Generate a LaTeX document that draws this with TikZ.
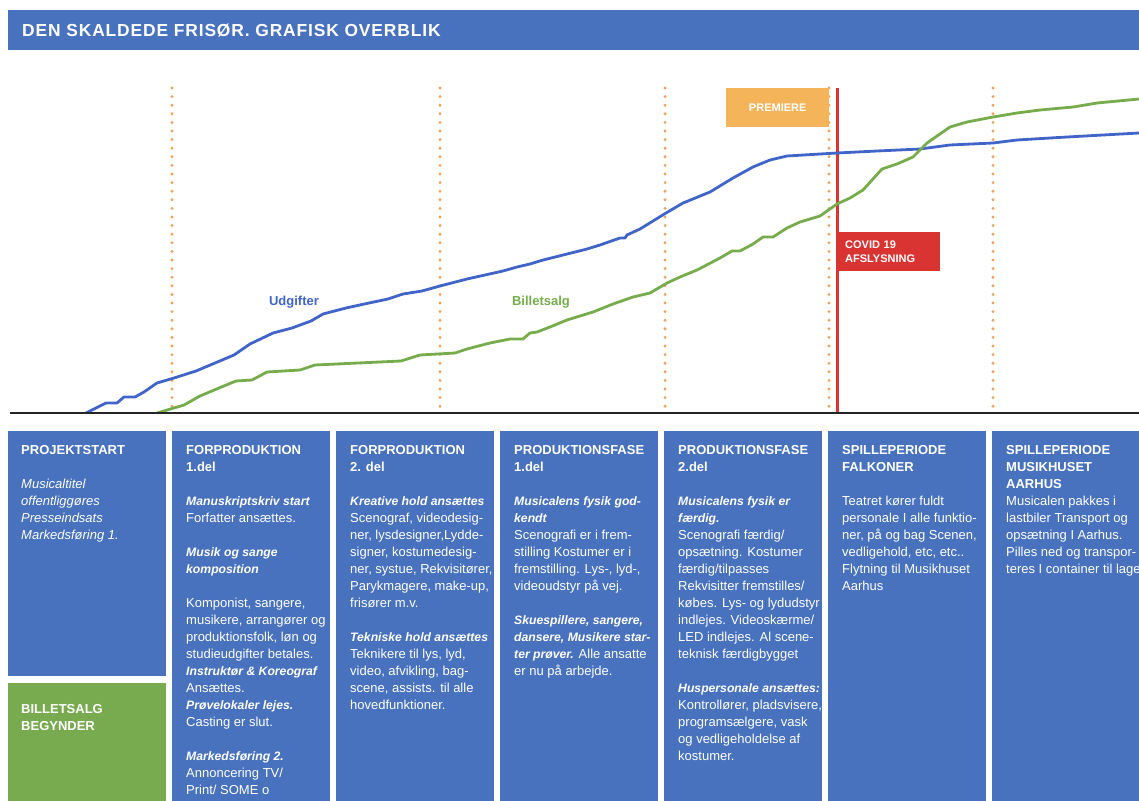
\documentclass[tikz,border=0pt]{standalone}
\usepackage{fontspec}
\setmainfont{Liberation Sans}
\newfontfamily\titlefont[LetterSpace=5]{Liberation Sans}
\usetikzlibrary{positioning}

\definecolor{boxblue}{RGB}{72,114,189}
\definecolor{udgblue}{RGB}{64,100,200}
\definecolor{salggreen}{RGB}{118,172,76}
\definecolor{boxgreen}{RGB}{120,170,80}
\definecolor{dotorange}{RGB}{240,160,90}
\definecolor{premorange}{RGB}{243,180,90}
\definecolor{covidred}{RGB}{218,52,50}

\newcommand{\bi}[1]{{\fontsize{12.2}{17}\selectfont\bfseries\itshape #1}}

\begin{document}
\begin{tikzpicture}[
  x=1pt, y=-1pt,
  phase/.style={rectangle, fill=boxblue, anchor=north west, minimum width=158pt, inner sep=0pt},
  txt/.style={anchor=north west, align=left, text=white, inner sep=0pt, font=\fontsize{13}{17}\selectfont},
  tag/.style={rectangle, anchor=north west, text=white, inner sep=0pt, font=\bfseries\fontsize{11}{14}\selectfont},
  milestone/.style={dotorange, line width=3.2pt, line cap=round, dash pattern=on 0pt off 8.6pt},
  curve/.style={line width=2.8pt, line join=round},
  lbl/.style={font=\bfseries\fontsize{13}{15}\selectfont}
]
\useasboundingbox (0,0) rectangle (1139,800);

% title bar
\node[fill=boxblue, anchor=north west, minimum width=1131pt, minimum height=40pt, inner sep=0pt] (bar) at (8,10) {};
\node[anchor=west, text=white, inner sep=0pt, font=\titlefont\bfseries\fontsize{17.4}{20}\selectfont] (title) at ([xshift=14pt]bar.west) {DEN SKALDEDE FRISØR. GRAFISK OVERBLIK};

% phase markers
\foreach \x in {172,440,665,829,993}
  \draw[milestone] (\x,88) -- (\x,413);

\node[tag, fill=premorange, minimum width=103pt, minimum height=39pt, align=center] (prem) at (726,88) {PREMIERE};
\coordinate (rtop) at (837,88);
\coordinate (rbot) at (837,413);
\draw[covidred, line width=3pt] (rtop) -- (rbot);
\node[tag, fill=covidred, minimum width=104pt, minimum height=39pt, text width=86pt, inner xsep=9pt, align=left] (covid) at (836,232) {COVID 19\\AFSLYSNING};

% curves
\draw[curve, udgblue] plot coordinates {(86,413) (106,403) (117,403) (124,397) (135,397) (144,392) (157,383) (174,378) (196,371) (215,363) (234,355) (250,344) (273,333) (292,328) (311,321) (323,314) (346,308) (369,303) (388,299) (403,294) (422,291) (440,286) (467,279) (503,271) (517,267) (530,264) (543,260) (567,254) (587,249) (600,245) (620,238) (625,238) (627,235) (640,229) (666,213) (683,203) (710,192) (733,178) (753,167) (770,160) (787,156) (837,153) (877,151) (920,149) (950,145) (993,143) (1017,140) (1067,137) (1139,133)};
\draw[curve, salggreen] plot coordinates {(157,413) (184,405) (200,396) (219,388) (236,381) (252,380) (267,372) (300,370) (315,365) (401,361) (420,355) (455,353) (467,349) (490,343) (510,339) (523,339) (530,333) (537,332) (550,327) (567,320) (593,312) (613,304) (633,297) (650,293) (667,283) (680,277) (697,270) (720,258) (732,251) (740,251) (753,244) (763,237) (773,237) (787,228) (800,222) (820,216) (837,204) (850,198) (863,190) (882,169) (897,164) (913,157) (927,143) (950,127) (967,122) (993,117) (1017,113) (1040,110) (1073,107) (1097,103) (1139,99)};
\node[lbl, text=udgblue] (udg) at (294,302) {Udgifter};
\node[lbl, text=salggreen] (salg) at (541,302) {Billetsalg};

% axis
\draw[black!85, line width=2pt] (10,413) -- (1139,413);

% phases
\node[phase, minimum height=245pt] (p1) at (8,431) {};
\node[phase, fill=boxgreen, minimum height=120pt] (sale) at (8,683) {};
\node[phase, minimum height=370pt] (p2) at (172,431) {};
\node[phase, minimum height=370pt] (p3) at (336,431) {};
\node[phase, minimum height=370pt] (p4) at (500,431) {};
\node[phase, minimum height=370pt] (p5) at (664,431) {};
\node[phase, minimum height=370pt] (p6) at (828,431) {};
\node[phase, minimum height=370pt] (p7) at (992,431) {};

\node[txt] (t1) at ([xshift=13pt,yshift=-14pt]p1.north west) {%
\textbf{PROJEKTSTART}\\[17pt]
\textit{Musicaltitel}\\
\textit{offentliggøres}\\
\textit{Presseindsats}\\
\textit{Markedsføring 1.}};

\node[txt] (ts) at ([xshift=13pt,yshift=-21pt]sale.north west) {%
\textbf{BILLETSALG}\\
\textbf{BEGYNDER}};

\node[txt] (t2) at ([xshift=14pt,yshift=-14pt]p2.north west) {%
\textbf{FORPRODUKTION}\\
\textbf{1.del}\\[17pt]
\bi{Manuskriptskriv start}\\
Forfatter ansættes.\\[17pt]
\bi{Musik og sange}\\
\bi{komposition}\\[17pt]
Komponist, sangere,\\
musikere, arrangører og\\
produktionsfolk, løn og\\
studieudgifter betales.\\
\bi{Instruktør \& Koreograf}\\
Ansættes.\\
\bi{Prøvelokaler lejes.}\\
Casting er slut.\\[17pt]
\bi{Markedsføring 2.}\\
Annoncering TV/\\
Print/ SOME o};

\node[txt] (t3) at ([xshift=14pt,yshift=-14pt]p3.north west) {%
\textbf{FORPRODUKTION}\\
\textbf{2. del}\\[17pt]
\bi{Kreative hold ansættes}\\
Scenograf, videodesig-\\
ner, lysdesigner,Lydde-\\
signer, kostumedesig-\\
ner, systue, Rekvisitører,\\
Parykmagere, make-up,\\
frisører m.v.\\[17pt]
\bi{Tekniske hold ansættes}\\
Teknikere til lys, lyd,\\
video, afvikling, bag-\\
scene, assists. til alle\\
hovedfunktioner.};

\node[txt] (t4) at ([xshift=14pt,yshift=-14pt]p4.north west) {%
\textbf{PRODUKTIONSFASE}\\
\textbf{1.del}\\[17pt]
\bi{Musicalens fysik god-}\\
\bi{kendt}\\
Scenografi er i frem-\\
stilling Kostumer er i\\
fremstilling. Lys-, lyd-,\\
videoudstyr på vej.\\[17pt]
\bi{Skuespillere, sangere,}\\
\bi{dansere, Musikere star-}\\
\bi{ter prøver.} Alle ansatte\\
er nu på arbejde.};

\node[txt] (t5) at ([xshift=14pt,yshift=-14pt]p5.north west) {%
\textbf{PRODUKTIONSFASE}\\
\textbf{2.del}\\[17pt]
\bi{Musicalens fysik er}\\
\bi{færdig.}\\
Scenografi færdig/\\
opsætning. Kostumer\\
færdig/tilpasses\\
Rekvisitter fremstilles/\\
købes. Lys- og lydudstyr\\
indlejes. Videoskærme/\\
LED indlejes. Al scene-\\
teknisk færdigbygget\\[17pt]
\bi{Huspersonale ansættes:}\\
Kontrollører, pladsvisere,\\
programsælgere, vask\\
og vedligeholdelse af\\
kostumer.};

\node[txt] (t6) at ([xshift=14pt,yshift=-14pt]p6.north west) {%
\textbf{SPILLEPERIODE}\\
\textbf{FALKONER}\\[17pt]
Teatret kører fuldt\\
personale I alle funktio-\\
ner, på og bag Scenen,\\
vedligehold, etc, etc..\\
Flytning til Musikhuset\\
Aarhus};

\node[txt] (t7) at ([xshift=14pt,yshift=-14pt]p7.north west) {%
\textbf{SPILLEPERIODE}\\
\textbf{MUSIKHUSET}\\
\textbf{AARHUS}\\
Musicalen pakkes i\\
lastbiler Transport og\\
opsætning I Aarhus.\\
Pilles ned og transpor-\\
teres I container til lager};
\end{tikzpicture}
\end{document}
